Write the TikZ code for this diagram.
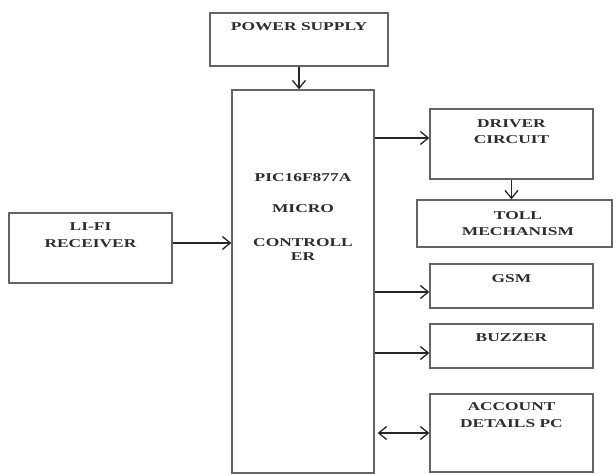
\documentclass[tikz,border=0pt]{standalone}
\usepackage{fontspec}
\setmainfont{Liberation Serif}
\newfontfamily\blkfont[FakeStretch=1.45]{Liberation Serif}
\usepackage{tikz}
\usetikzlibrary{positioning,calc}
\usetikzlibrary{arrows.meta}
\definecolor{BoxGray}{RGB}{100,100,100}
\definecolor{TxtGray}{RGB}{45,45,45}
\tikzset{blk/.style={rectangle,draw=BoxGray,line width=1.3pt,inner sep=0pt}, txt/.style={inner sep=0pt,font=\blkfont\bfseries\fontsize{12}{16.5}\selectfont,text=TxtGray,align=center}, arr/.style={draw=black!85,line width=1.3pt,-{Straight Barb[length=8pt,width=13pt]}}}

\begin{document}
\begin{tikzpicture}[x=1pt,y=-1pt]
\useasboundingbox (0,0) rectangle (616,474);
\node[blk,minimum width=178pt,minimum height=53pt] (ps) at (299,39.5) {};
\node[blk,minimum width=142pt,minimum height=383pt] (mc) at (303,281.5) {};
\node[blk,minimum width=163pt,minimum height=70pt] (lifi) at (90.5,248) {};
\node[blk,minimum width=163pt,minimum height=70pt] (drv) at (511.5,144) {};
\node[blk,minimum width=195pt,minimum height=47pt] (toll) at (514.5,223.5) {};
\node[blk,minimum width=163pt,minimum height=44pt] (gsm) at (511.5,286) {};
\node[blk,minimum width=163pt,minimum height=44pt] (buz) at (511.5,346) {};
\node[blk,minimum width=163pt,minimum height=78pt] (acc) at (511.5,433) {};
% labels
\node[txt] (psl) at (299,27) {POWER SUPPLY};
\node[txt] (mcl1) at (303,178) {PIC16F877A};
\node[txt] (mcl2) at (303,209) {MICRO};
\node[txt] (mcl3) at (303,250) {CONTROLL\\[-2.5pt]ER};
\node[txt] (lifil) at (90.5,235) {LI-FI\\RECEIVER};
\node[txt] (drvl) at (511.5,131.5) {DRIVER\\CIRCUIT};
\node[txt] (tolll) at (518,223.5) {TOLL\\MECHANISM};
\node[txt] (gsml) at (511.5,279) {GSM};
\node[txt] (buzl) at (511.5,338) {BUZZER};
\node[txt] (accl) at (511.5,415) {ACCOUNT\\DETAILS PC};
% connectors
\draw[arr] (ps.south) -- (ps.south |- mc.north);
\draw[arr] (lifi.east |- 0,243) -- (mc.west |- 0,243);
\draw[arr] (mc.east |- 0,138) -- (drv.west |- 0,138);
\draw[arr] (drv.south) -- (drv.south |- toll.north);
\draw[arr] (mc.east |- 0,292) -- (gsm.west |- 0,292);
\draw[arr] (mc.east |- 0,353) -- (buz.west |- 0,353);
\draw[arr,{Straight Barb[length=8pt,width=13pt]}-{Straight Barb[length=8pt,width=13pt]},shorten <=3pt] (mc.east |- acc.west) -- (acc.west);
\end{tikzpicture}
\end{document}
